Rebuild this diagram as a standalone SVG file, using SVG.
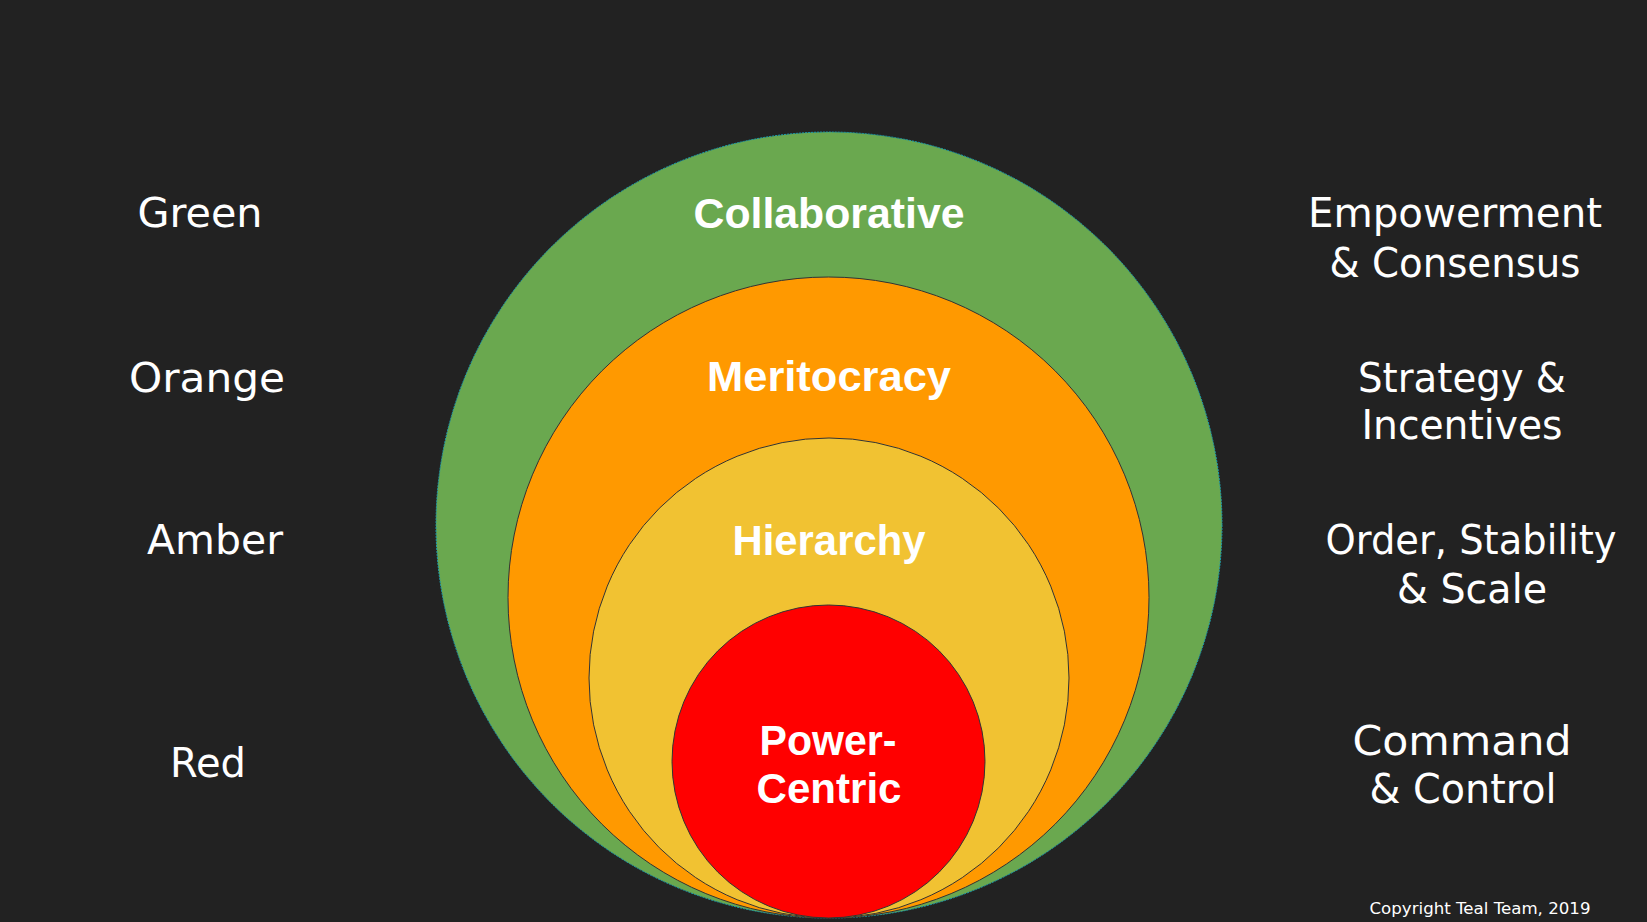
<svg xmlns="http://www.w3.org/2000/svg" width="1647" height="922" viewBox="0 0 1647 922">
<style>
.lbl{font-family:"DejaVu Sans","Liberation Sans",sans-serif;font-size:40px;fill:#ffffff;text-anchor:middle}
.ttl{font-family:"Liberation Sans",Arial,sans-serif;font-weight:bold;font-size:43px;fill:#ffffff;text-anchor:middle}
.cp{font-family:"DejaVu Sans","Liberation Sans",sans-serif;font-size:16px;fill:#ffffff;text-anchor:middle}
.ring{stroke:#333333;stroke-width:1}
</style>
<rect x="0" y="0" width="1647" height="922" fill="#222222"/>
<g id="green">
<circle cx="829" cy="525" r="393" fill="#6aa84f" stroke="#1b9fb0" stroke-width="1" stroke-dasharray="2 1"/>
<text class="ttl" x="829" y="228" textLength="271" lengthAdjust="spacingAndGlyphs">Collaborative</text>
</g>
<g id="orange">
<circle class="ring" cx="828.5" cy="597.5" r="320.5" fill="#ff9900"/>
<text class="ttl" x="829" y="391" textLength="244" lengthAdjust="spacingAndGlyphs">Meritocracy</text>
</g>
<g id="amber">
<circle class="ring" cx="829" cy="678" r="240" fill="#f1c232"/>
<text class="ttl" x="829" y="555" textLength="193" lengthAdjust="spacingAndGlyphs">Hierarchy</text>
</g>
<g id="red">
<circle class="ring" cx="828.5" cy="761.5" r="156.5" fill="#ff0000"/>
<text class="ttl" x="828" y="755" textLength="137" lengthAdjust="spacingAndGlyphs">Power-</text>
<text class="ttl" x="829" y="803" textLength="145" lengthAdjust="spacingAndGlyphs">Centric</text>
</g>
<g id="left-labels">
<text class="lbl" x="200" y="227" textLength="125" lengthAdjust="spacingAndGlyphs">Green</text>
<text class="lbl" x="207" y="392" textLength="156" lengthAdjust="spacingAndGlyphs">Orange</text>
<text class="lbl" x="215" y="554" textLength="136" lengthAdjust="spacingAndGlyphs">Amber</text>
<text class="lbl" x="208" y="777" textLength="76" lengthAdjust="spacingAndGlyphs">Red</text>
</g>
<g id="right-labels">
<text class="lbl" x="1455" y="227" textLength="294" lengthAdjust="spacingAndGlyphs">Empowerment</text>
<text class="lbl" x="1455" y="277" textLength="251" lengthAdjust="spacingAndGlyphs">&amp; Consensus</text>
<text class="lbl" x="1462" y="392" textLength="208" lengthAdjust="spacingAndGlyphs">Strategy &amp;</text>
<text class="lbl" x="1462" y="439" textLength="201" lengthAdjust="spacingAndGlyphs">Incentives</text>
<text class="lbl" x="1471" y="554" textLength="291" lengthAdjust="spacingAndGlyphs">Order, Stability</text>
<text class="lbl" x="1472" y="603" textLength="150" lengthAdjust="spacingAndGlyphs">&amp; Scale</text>
<text class="lbl" x="1462" y="755" textLength="219" lengthAdjust="spacingAndGlyphs">Command</text>
<text class="lbl" x="1463" y="803" textLength="187" lengthAdjust="spacingAndGlyphs">&amp; Control</text>
<text class="cp" x="1480" y="914" textLength="221" lengthAdjust="spacingAndGlyphs">Copyright Teal Team, 2019</text>
</g>
<g id="connectors"/>
</svg>
